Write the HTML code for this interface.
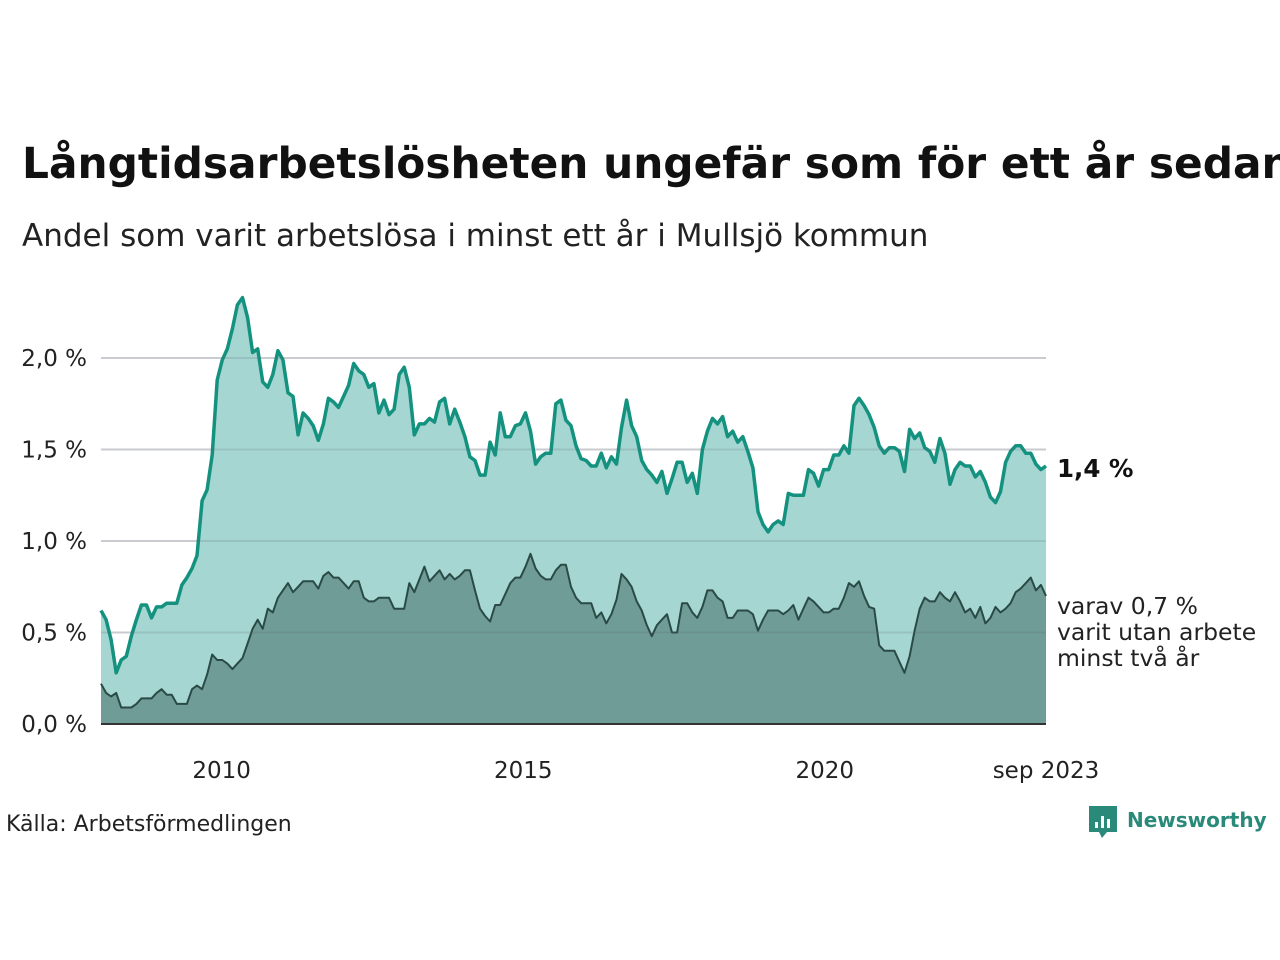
<!DOCTYPE html>
<html><head><meta charset="utf-8"><style>
body{margin:0;background:#fff;width:1280px;height:960px;overflow:hidden;font-family:"DejaVu Sans","Liberation Sans",sans-serif;}
svg text{font-family:"DejaVu Sans","Liberation Sans",sans-serif;}
</style></head><body>
<svg width="1280" height="960" id="svg" style="position:absolute;left:0;top:0">
<text x="22" y="178" font-size="42.3" font-weight="bold" fill="#111">Långtidsarbetslösheten ungefär som för ett år sedan</text>
<text x="22" y="246" font-size="31" fill="#222">Andel som varit arbetslösa i minst ett år i Mullsjö kommun</text>
<g id="plot"></g>
<text x="1057" y="477" font-size="24.5" font-weight="bold" fill="#111">1,4 %</text>
<text font-size="23.5" fill="#222"><tspan x="1057" y="614">varav 0,7 %</tspan><tspan x="1057" y="640">varit utan arbete</tspan><tspan x="1057" y="666">minst två år</tspan></text>
<text x="6" y="831" font-size="22" fill="#222">Källa: Arbetsförmedlingen</text>
<g>
<path d="M1089 806h28v26h-10l-5 6-3-6h-10z" fill="#2a8a7a"/>
<rect x="1095" y="822" width="3" height="6" fill="#fff"/><rect x="1101" y="816" width="3" height="12" fill="#fff"/><rect x="1107" y="819" width="3" height="9" fill="#fff"/>
<text x="1127" y="827" font-size="20" font-weight="bold" fill="#2a8a7a">Newsworthy</text>
</g>
</svg>
<script>
const totalValues=[0.62,0.57,0.46,0.28,0.35,0.37,0.48,0.57,0.65,0.65,0.58,0.64,0.64,0.66,0.66,0.66,0.76,0.80,0.85,0.92,1.22,1.28,1.47,1.88,1.99,2.05,2.16,2.29,2.33,2.22,2.03,2.05,1.87,1.84,1.91,2.04,1.99,1.81,1.79,1.58,1.70,1.67,1.63,1.55,1.64,1.78,1.76,1.73,1.79,1.85,1.97,1.93,1.91,1.84,1.86,1.70,1.77,1.69,1.72,1.91,1.95,1.84,1.58,1.64,1.64,1.67,1.65,1.76,1.78,1.64,1.72,1.65,1.57,1.46,1.44,1.36,1.36,1.54,1.47,1.70,1.57,1.57,1.63,1.64,1.70,1.60,1.42,1.46,1.48,1.48,1.75,1.77,1.66,1.63,1.52,1.45,1.44,1.41,1.41,1.48,1.40,1.46,1.42,1.62,1.77,1.63,1.57,1.44,1.39,1.36,1.32,1.38,1.26,1.34,1.43,1.43,1.32,1.37,1.26,1.50,1.60,1.67,1.64,1.68,1.57,1.60,1.54,1.57,1.49,1.40,1.16,1.09,1.05,1.09,1.11,1.09,1.26,1.25,1.25,1.25,1.39,1.37,1.30,1.39,1.39,1.47,1.47,1.52,1.48,1.74,1.78,1.74,1.69,1.62,1.52,1.48,1.51,1.51,1.49,1.38,1.61,1.56,1.59,1.51,1.49,1.43,1.56,1.48,1.31,1.39,1.43,1.41,1.41,1.35,1.38,1.32,1.24,1.21,1.27,1.43,1.49,1.52,1.52,1.48,1.48,1.42,1.39,1.41];
const longValues=[0.22,0.17,0.15,0.17,0.09,0.09,0.09,0.11,0.14,0.14,0.14,0.17,0.19,0.16,0.16,0.11,0.11,0.11,0.19,0.21,0.19,0.27,0.38,0.35,0.35,0.33,0.30,0.33,0.36,0.44,0.52,0.57,0.52,0.63,0.61,0.69,0.73,0.77,0.72,0.75,0.78,0.78,0.78,0.74,0.81,0.83,0.80,0.80,0.77,0.74,0.78,0.78,0.69,0.67,0.67,0.69,0.69,0.69,0.63,0.63,0.63,0.77,0.72,0.79,0.86,0.78,0.81,0.84,0.79,0.82,0.79,0.81,0.84,0.84,0.73,0.63,0.59,0.56,0.65,0.65,0.71,0.77,0.80,0.80,0.86,0.93,0.85,0.81,0.79,0.79,0.84,0.87,0.87,0.75,0.69,0.66,0.66,0.66,0.58,0.61,0.55,0.60,0.68,0.82,0.79,0.75,0.67,0.62,0.54,0.48,0.54,0.57,0.60,0.50,0.50,0.66,0.66,0.61,0.58,0.64,0.73,0.73,0.69,0.67,0.58,0.58,0.62,0.62,0.62,0.60,0.51,0.57,0.62,0.62,0.62,0.60,0.62,0.65,0.57,0.63,0.69,0.67,0.64,0.61,0.61,0.63,0.63,0.69,0.77,0.75,0.78,0.70,0.64,0.63,0.43,0.40,0.40,0.40,0.34,0.28,0.37,0.51,0.63,0.69,0.67,0.67,0.72,0.69,0.67,0.72,0.67,0.61,0.63,0.58,0.64,0.55,0.58,0.64,0.61,0.63,0.66,0.72,0.74,0.77,0.80,0.73,0.76,0.70];
const yTicks=[0,0.5,1.0,1.5,2.0];
const yTickLabels=["0,0 %","0,5 %","1,0 %","1,5 %","2,0 %"];
const xTickYears=[2010,2015,2020,2023.667];
const xTickLabels=["2010","2015","2020","sep 2023"];
const startYear=2008, endYear=2023.667;
const NS='http://www.w3.org/2000/svg';
const X0=101,X1=1046,Y0=724,PX=183;
const xYear=y=>X0+(y-startYear)/(endYear-startYear)*(X1-X0);
const yv=v=>Y0-v*PX;
const plot=document.getElementById('plot');
function mk(tag,attrs){const e=document.createElementNS(NS,tag);for(const k in attrs)e.setAttribute(k,attrs[k]);plot.appendChild(e);return e;}
function pts(arr){return arr.map((v,i)=>[X0+i/(arr.length-1)*(X1-X0),yv(v)]);}
yTicks.forEach((t,i)=>{if(t===0)return;const g=mk('line',{x1:X0,x2:X1,y1:yv(t),y2:yv(t),stroke:'#e2e2e6','stroke-width':2});

});
function area(arr,fill,stroke,sw,name){const p=pts(arr);
const d='M'+p[0][0]+','+Y0+p.map(q=>'L'+q[0].toFixed(1)+','+q[1].toFixed(1)).join('')+'L'+p[p.length-1][0]+','+Y0+'Z';
const a=mk('path',{d:d,fill:fill});


const l=mk('path',{d:'M'+p.map(q=>q[0].toFixed(1)+','+q[1].toFixed(1)).join('L'),fill:'none',stroke:stroke,'stroke-width':sw,'stroke-linejoin':'round'});

}
area(totalValues,'#a5d6d1','#14927f',3.5,'total-share');
area(longValues,'#709c97','#2a4a46',2,'two-year-share');
yTicks.forEach((t,i)=>{if(t===0)return;const g=mk('line',{x1:X0,x2:X1,y1:yv(t),y2:yv(t),stroke:'rgba(90,100,110,0.18)','stroke-width':2});

});
const ax=mk('line',{x1:X0,x2:X1,y1:Y0,y2:Y0,stroke:'#333','stroke-width':2});


yTicks.forEach((t,i)=>{const e=mk('text',{x:87,y:yv(t)+8,'text-anchor':'end','font-size':23,fill:'#222'});e.textContent=yTickLabels[i];

});
xTickYears.forEach((t,i)=>{const e=mk('text',{x:xYear(t),y:778,'text-anchor':'middle','font-size':23,fill:'#222'});e.textContent=xTickLabels[i];

});
</script>
</body></html>
